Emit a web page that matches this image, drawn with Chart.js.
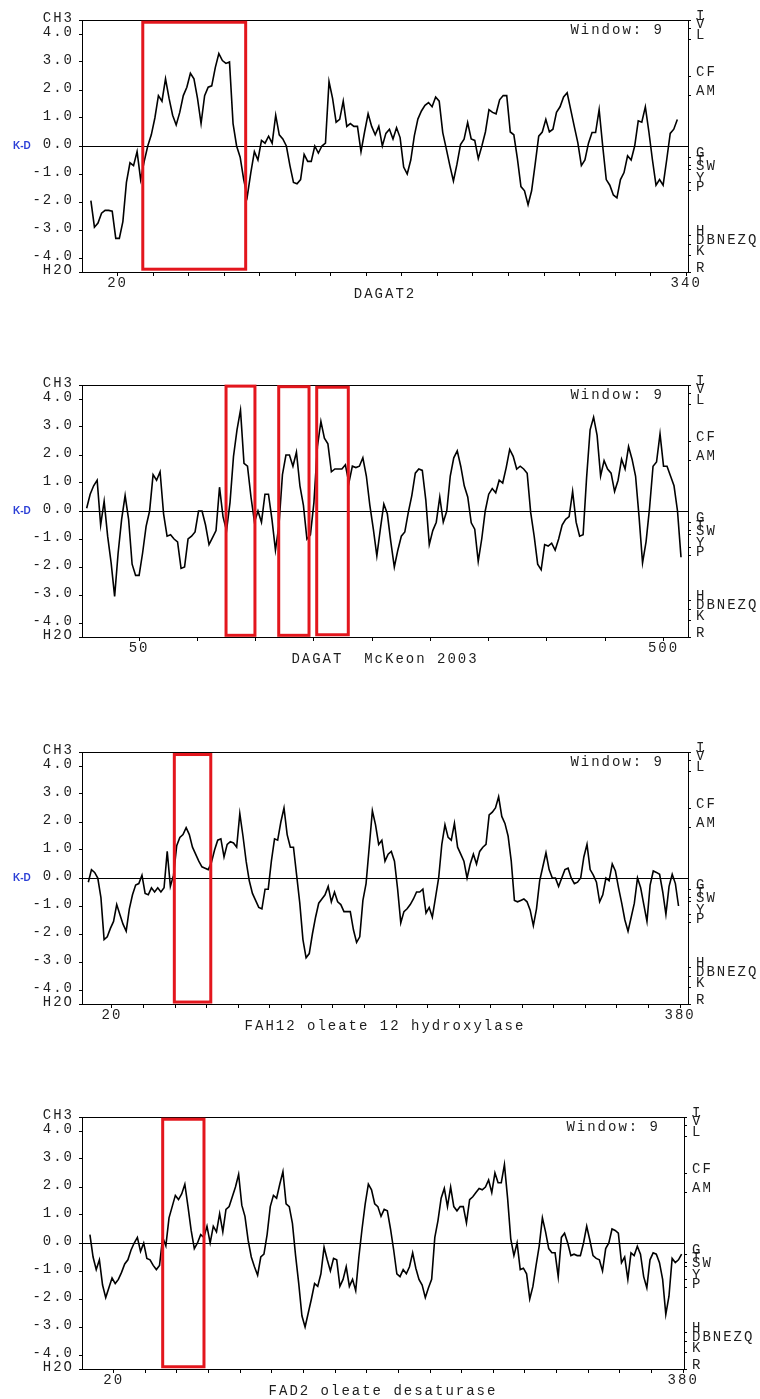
<!DOCTYPE html>
<html>
<head>
<meta charset="utf-8">
<title>Kyte-Doolittle hydropathy plots</title>
<script src="https://cdn.jsdelivr.net/npm/chart.js@4.4.0/dist/chart.umd.min.js"></script>
<style>
    html, body { margin: 0; padding: 0; background: #fff; }
    body { width: 760px; height: 1399px; position: relative; overflow: hidden; }
    canvas.panel { position: absolute; left: 0; }
</style>
</head>
<body>
<canvas id="chartDagat2" class="panel" width="760" height="302" style="top:0px"></canvas>
<canvas id="chartDagat" class="panel" width="760" height="302" style="top:365px"></canvas>
<canvas id="chartFah12" class="panel" width="760" height="302" style="top:732px"></canvas>
<canvas id="chartFad2" class="panel" width="760" height="302" style="top:1097px"></canvas>
<script>
// K-D profiles (window 9): first residue, step, values

// DAGAT2
const dagat2Start = 5;
const dagat2Step = 2;
const dagat2KD = [
    -1.95, -2.9, -2.75, -2.4, -2.3, -2.3, -2.33, -3.3, -3.3, -2.7,
    -1.3, -0.6, -0.7, -0.2, -1.2, -0.55, 0.0, 0.4, 1.0, 1.8,
    1.6, 2.4, 1.7, 1.1, 0.75, 1.2, 1.8, 2.1, 2.6, 2.4,
    1.7, 0.8, 1.8, 2.1, 2.15, 2.8, 3.3, 3.05, 2.95, 3.0,
    0.8, 0.0, -0.4, -1.2, -1.8, -0.95, -0.2, -0.5, 0.2, 0.1,
    0.35, 0.1, 1.1, 0.4, 0.25, 0.0, -0.7, -1.3, -1.35, -1.2,
    -0.3, -0.55, -0.55, 0.0, -0.25, 0.0, 0.1, 2.3, 1.7, 0.85,
    0.95, 1.6, 0.7, 0.8, 0.7, 0.7, -0.2, 0.5, 1.15, 0.7,
    0.4, 0.7, 0.0, 0.45, 0.6, 0.25, 0.65, 0.3, -0.75, -1.0,
    -0.5, 0.36, 0.96, 1.25, 1.45, 1.55, 1.4, 1.75, 1.6, 0.48,
    -0.1, -0.7, -1.25, -0.65, 0.05, 0.24, 0.84, 0.25, 0.2, -0.45,
    0.0, 0.5, 1.3, 1.2, 1.15, 1.65, 1.8, 1.8, 0.5, 0.4,
    -0.45, -1.45, -1.6, -2.1, -1.6, -0.65, 0.35, 0.5, 0.95, 0.5,
    0.6, 1.2, 1.4, 1.75, 1.9, 1.3, 0.7, 0.12, -0.7, -0.5,
    0.1, 0.48, 0.48, 1.3, 0.0, -1.2, -1.4, -1.75, -1.85, -1.2,
    -0.95, -0.35, -0.5, 0.0, 0.9, 0.85, 1.4, 0.5, -0.5, -1.4,
    -1.2, -1.4, -0.5, 0.45, 0.6, 0.95
];

// DAGAT McKeon 2003
const dagatStart = 5;
const dagatStep = 3;
const dagatKD = [
    0.1, 0.6, 0.9, 1.1, -0.5, 0.35, -0.9, -1.85, -3.05, -1.5,
    -0.3, 0.55, -0.3, -1.9, -2.3, -2.3, -1.5, -0.55, 0.0, 1.3,
    1.1, 1.4, -0.1, -0.9, -0.85, -1.0, -1.1, -2.05, -2.0, -1.0,
    -0.9, -0.75, 0.0, 0.0, -0.5, -1.2, -0.95, -0.7, 0.85, -0.2,
    -0.7, 0.3, 1.95, 2.9, 3.6, 1.7, 1.6, 0.5, -0.4, 0.0,
    -0.4, 0.6, 0.6, -0.3, -1.4, -0.5, 1.3, 2.0, 2.0, 1.6,
    2.1, 0.9, 0.2, -1.0, -0.85, 0.3, 2.3, 3.2, 2.6, 2.4,
    1.4, 1.5, 1.5, 1.5, 1.65, 1.0, 1.6, 1.55, 1.6, 1.9,
    1.25, 0.2, -0.65, -1.6, -0.65, 0.25, -0.1, -1.1, -2.0, -1.4,
    -0.9, -0.75, -0.05, 0.55, 1.35, 1.5, 1.45, 0.4, -1.2, -0.7,
    -0.4, 0.5, -0.4, 0.0, 1.25, 1.9, 2.15, 1.6, 0.9, 0.5,
    -0.42, -0.65, -1.8, -1.0, 0.0, 0.6, 0.8, 0.65, 1.1, 1.0,
    1.55, 2.2, 1.95, 1.5, 1.6, 1.5, 1.35, -0.05, -0.9, -1.9,
    -2.1, -1.2, -1.25, -1.15, -1.4, -1.0, -0.5, -0.3, -0.2, 0.7,
    -0.4, -0.9, -0.85, 1.2, 2.9, 3.35, 2.7, 1.25, 1.8, 1.5,
    1.35, 0.7, 1.1, 1.85, 1.5, 2.3, 1.85, 1.25, -0.2, -1.85,
    -1.1, 0.1, 1.6, 1.75, 2.75, 1.6, 1.6, 1.25, 0.9, 0.0,
    -1.65
];

// FAH12 oleate 12 hydroxylase
const fah12Start = 5;
const fah12Step = 2;
const fah12KD = [
    -0.15, 0.3, 0.2, 0.0, -0.7, -2.2, -2.1, -1.8, -1.55, -0.95,
    -1.3, -1.65, -1.9, -1.1, -0.6, -0.25, -0.2, 0.1, -0.55, -0.6,
    -0.35, -0.5, -0.35, -0.5, -0.35, 0.95, -0.3, 0.1, 1.15, 1.45,
    1.55, 1.8, 1.55, 1.1, 0.85, 0.6, 0.4, 0.35, 0.3, 0.55,
    1.0, 1.35, 1.4, 0.75, 1.2, 1.3, 1.25, 1.1, 2.3, 1.5,
    0.6, -0.1, -0.55, -0.8, -1.05, -1.1, -0.4, -0.4, 0.6, 1.4,
    1.35, 2.0, 2.5, 1.55, 1.1, 1.1, 0.1, -0.9, -2.2, -2.85,
    -2.7, -2.0, -1.4, -0.9, -0.75, -0.6, -0.3, -0.85, -0.5, -0.85,
    -0.95, -1.2, -1.2, -1.2, -1.85, -2.3, -2.1, -0.8, -0.2, 1.1,
    2.4, 1.9, 1.2, 1.35, 0.6, 0.85, 0.95, 0.6, -0.4, -1.6,
    -1.2, -1.1, -0.95, -0.75, -0.5, -0.5, -0.4, -1.25, -1.05, -1.4,
    -0.7, 0.0, 1.2, 1.9, 1.45, 1.35, 1.95, 1.1, 0.85, 0.6,
    0.0, 0.5, 0.85, 0.5, 0.95, 1.1, 1.2, 2.25, 2.35, 2.5,
    2.9, 2.2, 1.95, 1.5, 0.6, -0.8, -0.85, -0.8, -0.75, -0.85,
    -1.15, -1.7, -1.1, -0.1, 0.4, 0.9, 0.3, 0.0, 0.0, -0.3,
    0.0, 0.3, 0.35, 0.0, -0.2, -0.15, 0.0, 0.75, 1.2, 0.3,
    0.1, -0.15, -0.85, -0.6, 0.0, -0.1, 0.5, 0.25, -0.35, -0.9,
    -1.5, -1.9, -1.4, -0.9, 0.0, -0.35, -0.95, -1.55, -0.25, 0.25,
    0.2, 0.13, -0.5, -1.3, -0.3, 0.13, -0.2, -1.0
];

// FAD2 oleate desaturase
const fad2Start = 5;
const fad2Step = 2;
const fad2KD = [
    0.3, -0.5, -0.95, -0.6, -1.5, -1.95, -1.6, -1.25, -1.45, -1.3,
    -1.05, -0.75, -0.6, -0.25, 0.0, 0.2, -0.3, 0.0, -0.55, -0.6,
    -0.8, -0.95, -0.8, 0.2, -0.1, 0.9, 1.3, 1.7, 1.55, 1.75,
    2.1, 1.3, 0.45, -0.2, 0.0, 0.3, 0.2, 0.6, 0.0, 0.6,
    0.4, 1.05, 0.4, 1.2, 1.3, 1.65, 2.0, 2.45, 1.35, 0.95,
    0.1, -0.5, -0.85, -1.15, -0.5, -0.4, 0.3, 1.3, 1.7, 1.6,
    2.1, 2.55, 1.4, 1.3, 0.7, -0.45, -1.45, -2.6, -3.0, -2.5,
    -2.0, -1.45, -1.55, -1.1, -0.15, -0.6, -1.0, -0.55, -0.6, -1.55,
    -1.3, -0.85, -1.55, -1.3, -1.7, -0.5, 0.5, 1.4, 2.1, 1.9,
    1.4, 1.3, 0.95, 1.2, 1.15, 0.5, -0.25, -1.1, -1.2, -0.95,
    -1.1, -0.85, -0.35, -0.9, -1.3, -1.5, -1.95, -1.6, -1.3, 0.2,
    0.8, 1.6, 1.95, 1.3, 2.0, 1.3, 1.15, 1.3, 1.3, 0.72,
    1.55, 1.65, 1.8, 1.95, 1.9, 2.0, 2.25, 1.8, 2.5, 2.15,
    2.15, 2.8, 1.6, 0.15, -0.45, 0.0, -0.95, -0.9, -1.1, -2.0,
    -1.55, -0.8, -0.1, 0.9, 0.4, -0.2, -0.35, -0.35, -1.2, 0.2,
    0.35, 0.0, -0.45, -0.4, -0.45, -0.45, 0.0, 0.6, 0.1, -0.45,
    -0.55, -0.6, -1.0, -0.2, 0.0, 0.5, 0.45, 0.35, -0.7, -0.5,
    -1.3, -0.35, -0.45, -0.12, -0.4, -1.2, -1.6, -0.6, -0.35, -0.4,
    -0.7, -1.3, -2.55, -1.9, -0.55, -0.7, -0.6, -0.4
];

// residue axis ticks
const dagat2Ticks = [20, 40, 60, 80, 100, 120, 140, 160, 180, 200, 220, 240, 260, 280, 300, 320, 340];
const dagatTicks = [50, 100, 150, 200, 250, 300, 350, 400, 450, 500];
const fah12Ticks = [20, 40, 60, 80, 100, 120, 140, 160, 180, 200, 220, 240, 260, 280, 300, 320, 340, 360, 380];
const fad2Ticks = [20, 40, 60, 80, 100, 120, 140, 160, 180, 200, 220, 240, 260, 280, 300, 320, 340, 360, 380];

// left scale: hydrophobic (CH3) to hydrophilic (H2O)
const kdTicks = [4.5, 4, 3, 2, 1, 0, -1, -2, -3, -4, -4.5];

// right scale: residues at their K-D value
const aaValues = [4.5, 4.2, 3.8, 2.5, 1.8, -0.4, -0.7, -0.85, -1.3, -1.6, -3.2, -3.5, -3.9, -4.5];
const aaLabels = ['I', 'V', 'L', 'CF', 'AM', 'G', 'T', 'SW', 'Y', 'P', 'H', 'DBNEZQ', 'K', 'R'];

// highlighted segments (residue from/to, K-D top/bottom)
const dagat2Boxes = [
    { from: 34.2, to: 92.1, top: 4.42, bottom: -4.4 }
];
const dagatBoxes = [
    { from: 124.6, to: 149.4, top: 4.46, bottom: -4.44 },
    { from: 169.8, to: 195.8, top: 4.44, bottom: -4.44 },
    { from: 202.4, to: 229.5, top: 4.42, bottom: -4.42 }
];
const fah12Boxes = [
    { from: 59.5, to: 82.6, top: 4.41, bottom: -4.43 }
];
const fad2Boxes = [
    { from: 51.0, to: 77.1, top: 4.42, bottom: -4.42 }
];

const monoFont = { family: "'Liberation Mono', 'DejaVu Sans Mono', monospace", size: 14, lineHeight: 1 };
const textColor = '#1e1e1e';

document.addEventListener('DOMContentLoaded', function() {
    initProfile('chartDagat2', {
        title: 'DAGAT2', start: dagat2Start, step: dagat2Step, values: dagat2KD,
        min: 0, max: 341, ticks: dagat2Ticks, boxes: dagat2Boxes, showKD: true, rightPad: 0
    });
    initProfile('chartDagat', {
        title: 'DAGAT  McKeon 2003', start: dagatStart, step: dagatStep, values: dagatKD,
        min: 1, max: 521, ticks: dagatTicks, boxes: dagatBoxes, showKD: true, rightPad: 0
    });
    initProfile('chartFah12', {
        title: 'FAH12 oleate 12 hydroxylase', start: fah12Start, step: fah12Step, values: fah12KD,
        min: 1, max: 385, ticks: fah12Ticks, boxes: fah12Boxes, showKD: true, rightPad: 0
    });
    initProfile('chartFad2', {
        title: 'FAD2 oleate desaturase', start: fad2Start, step: fad2Step, values: fad2KD,
        min: 0, max: 380.5, ticks: fad2Ticks, boxes: fad2Boxes, showKD: false, rightPad: 4
    });
});

/**
 * Frame, highlight boxes and the extra labels of a panel
 */
const profileDecor = {
    id: 'profileDecor',
    beforeDraw(chart) {
        chart.ctx.letterSpacing = '2px';
    },
    beforeDatasetsDraw(chart) {
        const { ctx, chartArea: a } = chart;
        ctx.save();
        ctx.strokeStyle = '#000';
        ctx.lineWidth = 1;
        ctx.strokeRect(Math.round(a.left) + 0.5, Math.round(a.top) + 0.5,
            Math.round(a.right) - Math.round(a.left), Math.round(a.bottom) - Math.round(a.top));
        ctx.restore();
    },
    afterDraw(chart, args, opts) {
        const { ctx, chartArea: a, scales } = chart;
        const x = scales.x;
        const y = scales.y;

        ctx.save();
        // red boxes
        ctx.strokeStyle = '#e3161d';
        ctx.lineWidth = 3;
        opts.boxes.forEach(b => {
            const x0 = x.getPixelForValue(b.from);
            const x1 = x.getPixelForValue(b.to);
            const y0 = y.getPixelForValue(b.top);
            const y1 = y.getPixelForValue(b.bottom);
            ctx.strokeRect(x0, y0, x1 - x0, y1 - y0);
        });

        // Window: 9
        ctx.font = "14px 'Liberation Mono', monospace";
        ctx.fillStyle = textColor;
        ctx.letterSpacing = '2px';
        ctx.textBaseline = 'middle';
        ctx.textAlign = 'right';
        ctx.fillText('Window: 9', a.right - 24, a.top + 10);

        // panel title
        ctx.textAlign = 'center';
        ctx.fillText(opts.title, (a.left + a.right) / 2, a.bottom + 22);

        // K-D marker
        if (opts.showKD) {
            ctx.letterSpacing = '0px';
            ctx.font = "bold 10px 'Liberation Sans', Arial, sans-serif";
            ctx.fillStyle = '#2b3fd6';
            ctx.textAlign = 'left';
            ctx.fillText('K-D', 13, y.getPixelForValue(0));
        }
        ctx.restore();
    }
};

/**
 * Initialize one hydropathy profile
 */
function initProfile(canvasId, p) {
    const canvas = document.getElementById(canvasId);
    if (!canvas) return;

    const points = p.values.map((v, i) => ({ x: p.start + i * p.step, y: v }));
    const firstTick = p.ticks[0];
    const lastTick = p.ticks[p.ticks.length - 1];

    new Chart(canvas.getContext('2d'), {
        type: 'line',
        data: {
            datasets: [{
                data: points,
                borderColor: '#000',
                borderWidth: 1.6,
                pointRadius: 0,
                tension: 0,
                fill: false
            }]
        },
        options: {
            responsive: false,
            animation: false,
            devicePixelRatio: 1,
            layout: {
                padding: { top: 20, left: 0, right: p.rightPad, bottom: 5 }
            },
            plugins: {
                legend: { display: false },
                tooltip: { enabled: false },
                profileDecor: { boxes: p.boxes, title: p.title, showKD: p.showKD }
            },
            scales: {
                x: {
                    type: 'linear',
                    min: p.min,
                    max: p.max,
                    afterBuildTicks: axis => { axis.ticks = p.ticks.map(v => ({ value: v })); },
                    afterFit: axis => { axis.height = 25; },
                    border: { display: false },
                    grid: {
                        drawOnChartArea: false,
                        tickLength: 4,
                        tickColor: '#000'
                    },
                    ticks: {
                        autoSkip: false,
                        maxRotation: 0,
                        padding: 0,
                        color: textColor,
                        font: monoFont,
                        callback: function(value) {
                            return (value === firstTick || value === lastTick) ? String(value) : '';
                        }
                    }
                },
                y: {
                    type: 'linear',
                    position: 'left',
                    min: -4.5,
                    max: 4.5,
                    afterBuildTicks: axis => { axis.ticks = kdTicks.map(v => ({ value: v })); },
                    afterFit: axis => { axis.width = 82; },
                    border: { display: false },
                    grid: {
                        color: c => (c.tick && c.tick.value === 0) ? '#000' : 'rgba(0,0,0,0)',
                        tickColor: '#000',
                        tickLength: 3
                    },
                    ticks: {
                        autoSkip: false,
                        padding: 5,
                        labelOffset: -2,
                        color: textColor,
                        font: monoFont,
                        callback: function(value) {
                            if (value === 4.5) return 'CH3';
                            if (value === -4.5) return 'H2O';
                            return value.toFixed(1);
                        }
                    }
                },
                aa: {
                    type: 'linear',
                    axis: 'y',
                    position: 'right',
                    min: -4.5,
                    max: 4.5,
                    afterBuildTicks: axis => { axis.ticks = aaValues.map(v => ({ value: v })); },
                    afterFit: axis => { axis.width = 72; },
                    border: { display: false },
                    grid: {
                        drawOnChartArea: false,
                        tickColor: '#000',
                        tickLength: 3
                    },
                    ticks: {
                        autoSkip: false,
                        padding: 5,
                        labelOffset: -4,
                        color: textColor,
                        font: monoFont,
                        callback: function(value) {
                            return aaLabels[aaValues.indexOf(value)];
                        }
                    }
                }
            }
        },
        plugins: [profileDecor]
    });
}
</script>
</body>
</html>
